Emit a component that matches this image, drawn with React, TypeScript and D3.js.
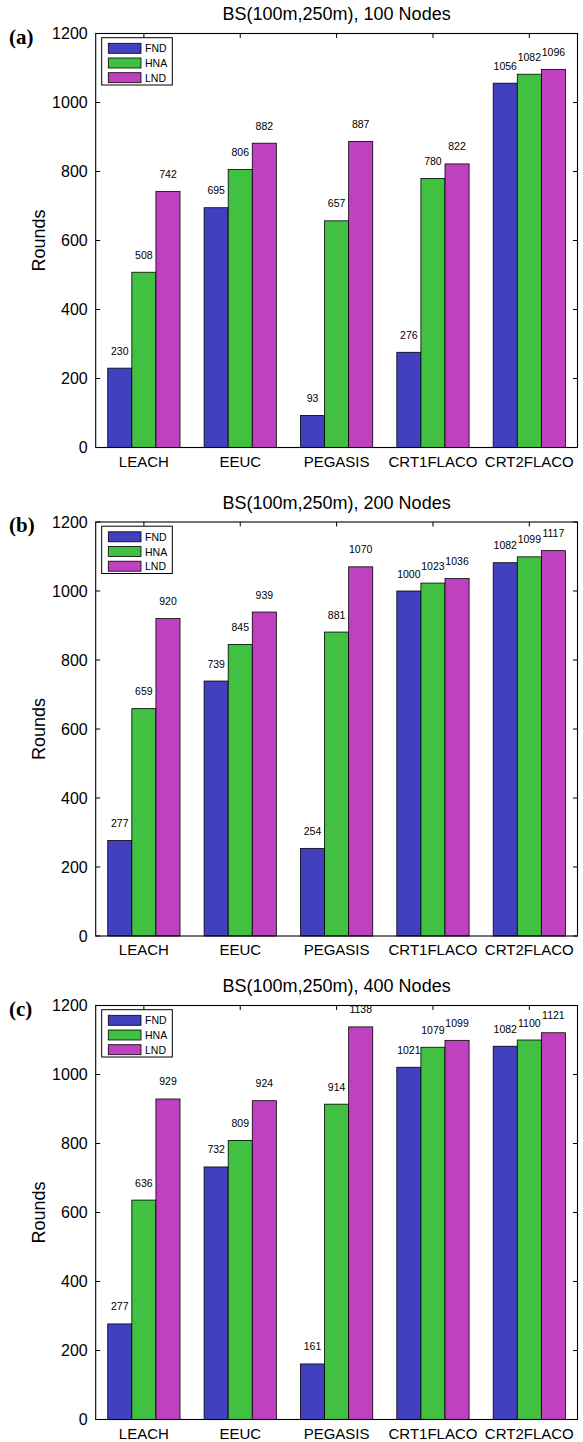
import React from "react";
import * as d3 from "d3";

// Protocols on the x axis
const categories = ["LEACH", "EEUC", "PEGASIS", "CRT1FLACO", "CRT2FLACO"];
// Lifetime metrics, one bar per metric in each group
const metrics = ["FND", "HNA", "LND"];
const yTicks = [0, 200, 400, 600, 800, 1000, 1200];

// (a) 100 nodes
const fnd100 = [230, 695, 93, 276, 1056];
const hna100 = [508, 806, 657, 780, 1082];
const lnd100 = [742, 882, 887, 822, 1096];
// (b) 200 nodes
const fnd200 = [277, 739, 254, 1000, 1082];
const hna200 = [659, 845, 881, 1023, 1099];
const lnd200 = [920, 939, 1070, 1036, 1117];
// (c) 400 nodes
const fnd400 = [277, 732, 161, 1021, 1082];
const hna400 = [636, 809, 914, 1079, 1100];
const lnd400 = [929, 924, 1138, 1099, 1121];

const panelTitles = [
  "BS(100m,250m), 100 Nodes",
  "BS(100m,250m), 200 Nodes",
  "BS(100m,250m), 400 Nodes",
];
const panelTags = ["(a)", "(b)", "(c)"];

const panels = [
  [fnd100, hna100, lnd100],
  [fnd200, hna200, lnd200],
  [fnd400, hna400, lnd400],
];

const COLORS = ["#4141c0", "#41c041", "#c041c0"];
const SANS = "'Liberation Sans', Arial, Helvetica, sans-serif";
const SERIF = "'Liberation Serif', 'Times New Roman', serif";

const AX_LEFT = 95.7;
const AX_RIGHT = 577.5;
const PLOT_H = 414;
const PANEL_TOPS = [33.5, 522, 1005.5];
const TICK = 4.5;
const BAR_W = 0.25; // in category units

function Panel({ top, series, title, tag }: { top: number; series: number[][]; title: string; tag: string }) {
  const x = d3.scaleLinear().domain([0.5, 5.5]).range([AX_LEFT, AX_RIGHT]);
  const y = d3.scaleLinear().domain([0, 1200]).range([top + PLOT_H, top]);
  const bw = x(BAR_W) - x(0);
  const bottom = top + PLOT_H;

  return (
    <g>
      {/* bars */}
      {series.map((vals, si) =>
        vals.map((v, ci) => {
          const cx = ci + 1 + (si - 1) * BAR_W;
          const x0 = x(cx - BAR_W / 2);
          return (
            <rect
              key={`b${si}-${ci}`}
              x={x0}
              y={y(v)}
              width={bw}
              height={bottom - y(v)}
              fill={COLORS[si]}
              stroke="#000"
              strokeWidth={0.8}
            />
          );
        })
      )}
      {/* value labels */}
      {series.map((vals, si) =>
        vals.map((v, ci) => {
          const cx = ci + 1 + (si - 1) * BAR_W;
          return (
            <text
              key={`t${si}-${ci}`}
              x={x(cx)}
              y={y(v) - 13.5}
              textAnchor="middle"
              fontFamily={SANS}
              fontSize={10.5}
              fill="#000"
            >
              {v}
            </text>
          );
        })
      )}
      {/* axes box */}
      <rect x={AX_LEFT} y={top} width={AX_RIGHT - AX_LEFT} height={PLOT_H} fill="none" stroke="#000" strokeWidth={1.1} />
      {/* y ticks and labels */}
      {yTicks.map((t) => (
        <g key={`y${t}`}>
          <line x1={AX_LEFT} x2={AX_LEFT + TICK} y1={y(t)} y2={y(t)} stroke="#000" strokeWidth={1} />
          <line x1={AX_RIGHT} x2={AX_RIGHT - TICK} y1={y(t)} y2={y(t)} stroke="#000" strokeWidth={1} />
          <text x={AX_LEFT - 8} y={y(t)} dy="0.36em" textAnchor="end" fontFamily={SANS} fontSize={16} fill="#000">
            {t}
          </text>
        </g>
      ))}
      {/* x ticks (top) and category labels */}
      {categories.map((c, ci) => (
        <g key={`x${c}`}>
          <line x1={x(ci + 1)} x2={x(ci + 1)} y1={top} y2={top + TICK} stroke="#000" strokeWidth={1} />
          <text x={x(ci + 1)} y={bottom + 19} textAnchor="middle" fontFamily={SANS} fontSize={15} fill="#000">
            {c}
          </text>
        </g>
      ))}
      {/* y label */}
      <text
        transform={`translate(44.5,${top + PLOT_H / 2}) rotate(-90)`}
        textAnchor="middle"
        fontFamily={SANS}
        fontSize={18}
        fill="#000"
      >
        Rounds
      </text>
      {/* title */}
      <text x={(AX_LEFT + AX_RIGHT) / 2} y={top - 13.5} textAnchor="middle" fontFamily={SANS} fontSize={18} fill="#000">
        {title}
      </text>
      {/* panel tag */}
      <text x={9} y={top + 10} fontFamily={SERIF} fontWeight="bold" fontSize={21} fill="#000">
        {tag}
      </text>
      {/* legend */}
      <g>
        <rect x={101.7} y={top + 4.2} width={70.6} height={47.3} fill="#fff" stroke="#000" strokeWidth={1} />
        {metrics.map((m, i) => {
          const ry = top + 9.8 + i * 14.7;
          return (
            <g key={`l${m}`}>
              <rect x={108.3} y={ry} width={32.7} height={10} fill={COLORS[i]} stroke="#000" strokeWidth={0.8} />
              <text x={145} y={ry + 9} fontFamily={SANS} fontSize={10.5} fill="#000">
                {m}
              </text>
            </g>
          );
        })}
      </g>
    </g>
  );
}

export default function App() {
  return (
    <svg
      width={583}
      height={1442}
      viewBox="0 0 583 1442"
      style={{ position: "absolute", left: 0, top: 0, background: "#fff" }}
    >
      <rect x={0} y={0} width={583} height={1442} fill="#fff" />
      {panels.map((s, i) => (
        <Panel key={i} top={PANEL_TOPS[i]} series={s} title={panelTitles[i]} tag={panelTags[i]} />
      ))}
    </svg>
  );
}
